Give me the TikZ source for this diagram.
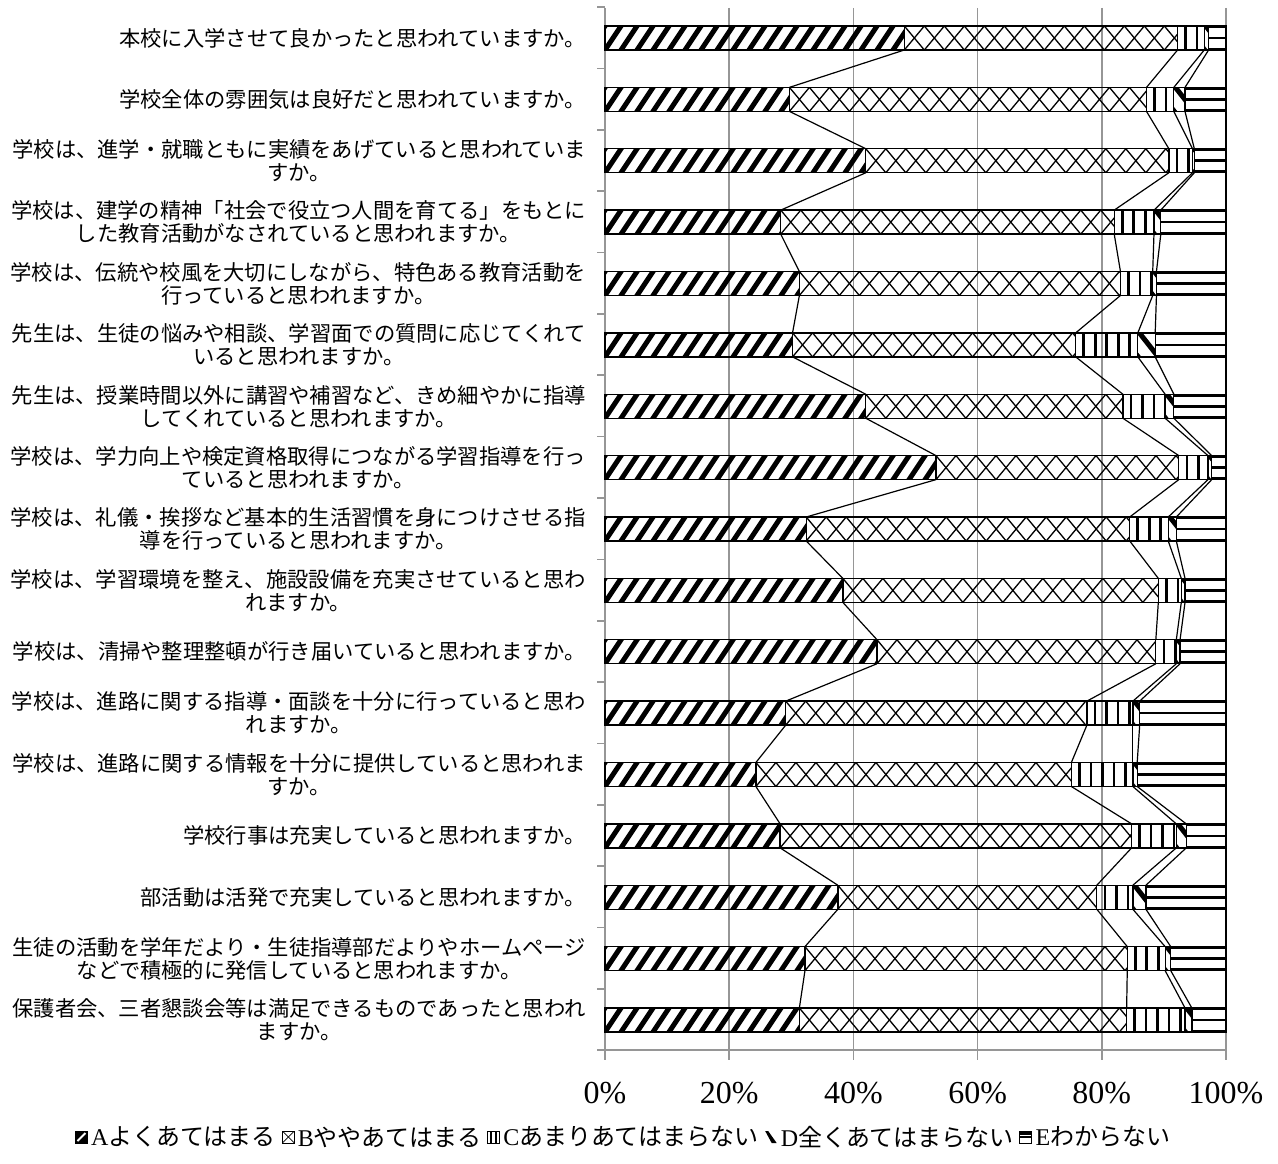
\documentclass[tikz,border=0pt]{standalone}
\usepackage{fontspec}
\newfontfamily\cjk{Noto Sans CJK JP}
\newfontfamily\serifnum{Liberation Serif}
\usetikzlibrary{positioning}
\definecolor{gridgray}{RGB}{150,150,150}
\begin{document}
\begin{tikzpicture}[x=1pt,y=-1pt,
  gridln/.style={draw=gridgray, line width=1.6pt},
  segborder/.style={draw=black, line width=1.3pt},
  astripe/.style={draw=black, line width=5pt},
  bcross/.style={draw=black, line width=1.3pt},
  cline/.style={draw=black, line width=2.6pt},
  dstripe/.style={draw=black, line width=5pt},
  eline/.style={draw=black, line width=2.6pt},
  serline/.style={draw=black, line width=1.2pt},
  lab/.style={font={\cjk\fontsize{21.3}{23}\selectfont}, align=center, anchor=east, inner sep=0pt},
  axlab/.style={font={\serifnum\fontsize{32}{36}\selectfont}, inner sep=0pt},
  legtxt/.style={font={\fontsize{24}{26}\selectfont}, inner sep=0pt, anchor=west},
  legicon/.style={minimum size=12pt, inner sep=0pt, anchor=west, draw=black, line width=1pt}
]
\useasboundingbox (0,0) rectangle (1278,1164);
\fill[white] (0,0) rectangle (1278,1164);

% gridlines and axes
\foreach \k in {1,...,5} \draw[gridln] ({605+124.2*\k},8) -- ({605+124.2*\k},1060);
\draw[gridln] (605,8) -- (605,1060);
\draw[gridln] (597,1050) -- (1226,1050);
\foreach \k in {0,...,16} \draw[gridln] (597,{7+61.375*\k}) -- (605,{7+61.375*\k});

% bars
\foreach \r/\pa/\pb/\pc/\pd in {
 1/48.2/92.2/96.5/97.2,
 2/29.7/87.2/91.6/93.4,
 3/42.0/90.8/94.6/94.9,
 4/28.3/82.0/88.4/89.5,
 5/31.3/83.0/88.2/88.8,
 6/30.2/75.8/85.8/88.6,
 7/42.0/83.4/90.2/91.6,
 8/53.3/92.4/97.1/97.7,
 9/32.4/84.5/90.7/92.0,
 10/38.3/89.1/92.8/93.4,
 11/43.8/88.7/92.0/92.6,
 12/29.1/77.6/85.0/86.1,
 13/24.3/75.1/85.0/85.7,
 14/28.2/84.8/92.0/93.6,
 15/37.5/79.2/85.0/87.1,
 16/32.2/84.1/90.2/91.1,
 17/31.3/84.0/93.4/94.5} {
  \pgfmathsetmacro{\yc}{38+61.375*(\r-1)}
  \pgfmathsetmacro{\yt}{\yc-12}
  \pgfmathsetmacro{\yb}{\yc+12}
  \pgfmathsetmacro{\xa}{605+6.21*\pa}
  \pgfmathsetmacro{\xb}{605+6.21*\pb}
  \pgfmathsetmacro{\xc}{605+6.21*\pc}
  \pgfmathsetmacro{\xd}{605+6.21*\pd}
  % A
  \begin{scope}
    \clip (605,\yt) rectangle (\xa,\yb);
    \foreach \k in {0,...,23} \draw[astripe] ({587+16*\k},{\yb+3}) -- ++(20,-30);
  \end{scope}
  % B
  \begin{scope}
    \clip (\xa,\yt) rectangle (\xb,\yb);
    \pgfmathtruncatemacro{\nb}{(\xb-\xa)/20+1}
    \foreach \k in {0,...,\nb} {
      \draw[bcross] ({\xa+20*\k},\yt) -- ++(20,24);
      \draw[bcross] ({\xa+20*\k},\yb) -- ++(20,-24);
    }
  \end{scope}
  % C
  \begin{scope}
    \clip (\xb,\yt) rectangle (\xc,\yb);
    \pgfmathtruncatemacro{\nc}{(\xc-\xb)/11.5}
    \foreach \k in {0,...,\nc} \draw[cline] ({\xb+8+11.5*\k},\yt) -- ++(0,24);
  \end{scope}
  % D
  \begin{scope}
    \clip (\xc,\yt) rectangle (\xd,\yb);
    \foreach \k in {-2,...,1} \draw[dstripe] ({\xc+20*\k},{\yt-2}) -- ++(22,28);
  \end{scope}
  % E
  \begin{scope}
    \clip (\xd,\yt) rectangle (1226,\yb);
    \draw[eline] (\xd,{\yt+1}) -- (1226,{\yt+1});
    \draw[eline] (\xd,\yc) -- (1226,\yc);
    \draw[eline] (\xd,{\yb-1}) -- (1226,{\yb-1});
  \end{scope}
  \draw[segborder] (605,\yt) rectangle (\xa,\yb);
  \draw[segborder] (\xa,\yt) rectangle (\xb,\yb);
  \draw[segborder] (\xb,\yt) rectangle (\xc,\yb);
  \draw[segborder] (\xc,\yt) rectangle (\xd,\yb);
  \draw[segborder] (\xd,\yt) rectangle (1226,\yb);
  \coordinate (r\r-1-t) at (\xa,\yt); \coordinate (r\r-1-b) at (\xa,\yb);
  \coordinate (r\r-2-t) at (\xb,\yt); \coordinate (r\r-2-b) at (\xb,\yb);
  \coordinate (r\r-3-t) at (\xc,\yt); \coordinate (r\r-3-b) at (\xc,\yb);
  \coordinate (r\r-4-t) at (\xd,\yt); \coordinate (r\r-4-b) at (\xd,\yb);
  \coordinate (r\r-5-t) at (1226,\yt); \coordinate (r\r-5-b) at (1226,\yb);
}

% series lines
\foreach \i in {1,...,16} {
  \pgfmathtruncatemacro{\j}{\i+1}
  \foreach \k in {1,...,5} \draw[serline] (r\i-\k-b) -- (r\j-\k-t);
}

% category labels
\foreach \r/\t in {
 1/{本校に入学させて良かったと思われていますか。},
 2/{学校全体の雰囲気は良好だと思われていますか。},
 3/{学校は、進学・就職ともに実績をあげていると思われていま\\すか。},
 4/{学校は、建学の精神「社会で役立つ人間を育てる」をもとに\\した教育活動がなされていると思われますか。},
 5/{学校は、伝統や校風を大切にしながら、特色ある教育活動を\\行っていると思われますか。},
 6/{先生は、生徒の悩みや相談、学習面での質問に応じてくれて\\いると思われますか。},
 7/{先生は、授業時間以外に講習や補習など、きめ細やかに指導\\してくれていると思われますか。},
 8/{学校は、学力向上や検定資格取得につながる学習指導を行っ\\ていると思われますか。},
 9/{学校は、礼儀・挨拶など基本的生活習慣を身につけさせる指\\導を行っていると思われますか。},
 10/{学校は、学習環境を整え、施設設備を充実させていると思わ\\れますか。},
 11/{学校は、清掃や整理整頓が行き届いていると思われますか。},
 12/{学校は、進路に関する指導・面談を十分に行っていると思わ\\れますか。},
 13/{学校は、進路に関する情報を十分に提供していると思われま\\すか。},
 14/{学校行事は充実していると思われますか。},
 15/{部活動は活発で充実していると思われますか。},
 16/{生徒の活動を学年だより・生徒指導部だよりやホームページ\\などで積極的に発信していると思われますか。},
 17/{保護者会、三者懇談会等は満足できるものであったと思われ\\ますか。}} {
  \pgfmathsetmacro{\yc}{38+61.375*(\r-1)}
  \node[lab] (lab\r) at (586,\yc) {\t};
}

% axis labels
\foreach \k/\t in {0/0,1/20,2/40,3/60,4/80,5/100}
  \node[axlab] (ax\k) at ({605+124.2*\k},1093) {\t\%};

% legend
\node[legicon, path picture={
   \fill[black] (path picture bounding box.south west) rectangle (path picture bounding box.north east);
   \draw[white, line width=2pt] ([xshift=2pt,yshift=2pt]path picture bounding box.south west) -- ([xshift=-2pt,yshift=-2pt]path picture bounding box.north east);}] (iA) at (75,1137) {};
\node[legtxt, right=3pt of iA] (tA) {{\serifnum A}{\cjk よくあてはまる}};
\node[legicon, right=6pt of tA, path picture={
   \draw[black, line width=0.7pt] (path picture bounding box.south west) -- (path picture bounding box.north east);
   \draw[black, line width=0.7pt] (path picture bounding box.north west) -- (path picture bounding box.south east);}] (iB) {};
\node[legtxt, right=3pt of iB] (tB) {{\serifnum B}{\cjk ややあてはまる}};
\node[legicon, right=6pt of tB, path picture={
   \draw[black, line width=1.6pt] (path picture bounding box.north) ++(-2.5pt,0) -- ++(0,-12pt);
   \draw[black, line width=1.6pt] (path picture bounding box.north) ++(2.5pt,0) -- ++(0,-12pt);}] (iC) {};
\node[legtxt, right=3pt of iC] (tC) {{\serifnum C}{\cjk あまりあてはまらない}};
\node[legicon, draw=none, right=6pt of tC, path picture={
   \fill[black] (path picture bounding box.north west) -- ++(3pt,0) -- ([xshift=-0.5pt]path picture bounding box.south east) -- ++(-5pt,0) -- cycle;}] (iD) {};
\node[legtxt, right=3pt of iD] (tD) {{\serifnum D}{\cjk 全くあてはまらない}};
\node[legicon, right=6pt of tD, path picture={
   \fill[black] (path picture bounding box.north west) rectangle ([yshift=-3.5pt]path picture bounding box.north east);
   \draw[black, line width=1.8pt] (path picture bounding box.west) -- (path picture bounding box.east);}] (iE) {};
\node[legtxt, right=3pt of iE] (tE) {{\serifnum E}{\cjk わからない}};
\end{tikzpicture}
\end{document}
